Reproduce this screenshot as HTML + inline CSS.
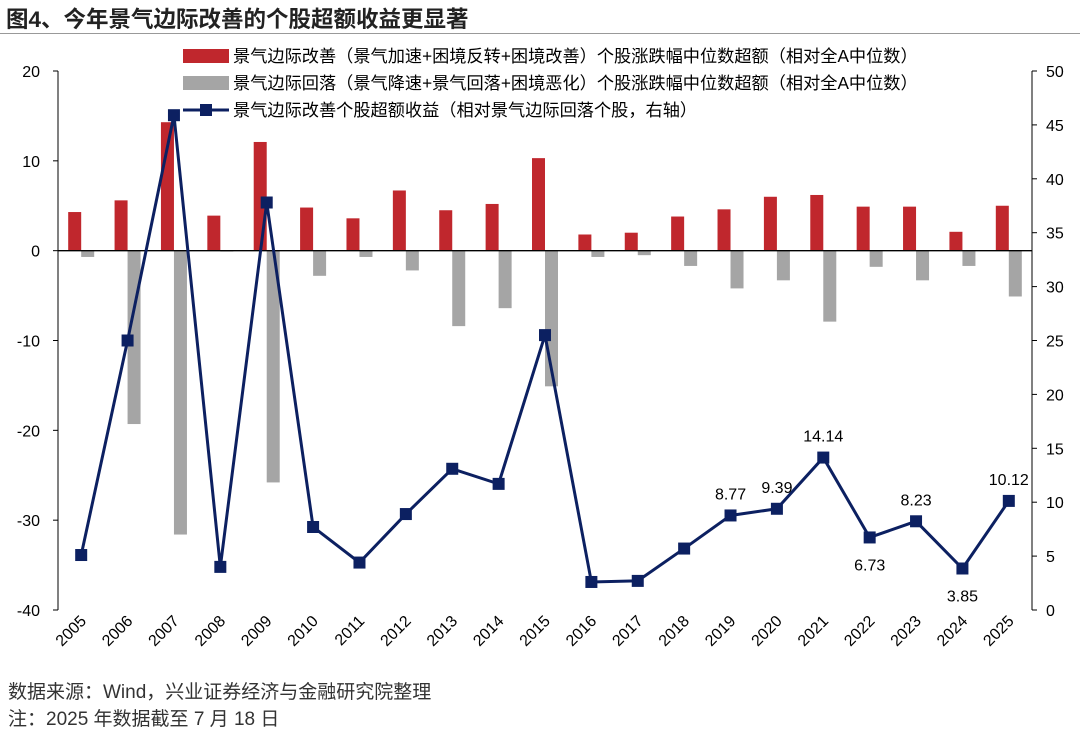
<!DOCTYPE html>
<html><head><meta charset="utf-8"><style>
body{margin:0;background:#fff;font-family:"Liberation Sans","Noto Sans CJK SC",sans-serif;}
#wrap{position:relative;width:1080px;height:729px;overflow:hidden;}
.t{position:absolute;white-space:nowrap;}
</style></head><body>
<div id="wrap">
<div class="t" style="left:6px;top:2px;font-size:22.5px;font-weight:bold;color:#222;">图4、今年景气边际改善的个股超额收益更显著</div>
<div style="position:absolute;left:0;top:33px;width:1080px;height:1px;background:#999;"></div>
<svg id="chart" width="1080" height="729" style="position:absolute;left:0;top:0"></svg>
<div class="t" style="left:8px;top:677px;font-size:19px;color:#333;">数据来源：Wind，兴业证券经济与金融研究院整理</div>
<div class="t" style="left:8px;top:704px;font-size:19px;color:#333;">注：2025 年数据截至 7 月 18 日</div>
</div>
<script>
const years=["2005","2006","2007","2008","2009","2010","2011","2012","2013","2014","2015","2016","2017","2018","2019","2020","2021","2022","2023","2024","2025"];
const improveBars=[4.3,5.6,14.3,3.9,12.1,4.8,3.6,6.7,4.5,5.2,10.3,1.8,2.0,3.8,4.6,6.0,6.2,4.9,4.9,2.1,5.0];
const declineBars=[-0.7,-19.3,-31.6,-0.1,-25.8,-2.8,-0.7,-2.2,-8.4,-6.4,-15.1,-0.7,-0.5,-1.7,-4.2,-3.3,-7.9,-1.8,-3.3,-1.7,-5.1];
const excessLine=[5.1,25.0,45.9,4.0,37.8,7.7,4.4,8.9,13.1,11.7,25.5,2.6,2.7,5.7,8.77,9.39,14.14,6.73,8.23,3.85,10.12];
const labelYears=["2019","2020","2021","2022","2023","2024","2025"];
const labelPos={"2019":"above","2020":"above","2021":"above","2022":"below","2023":"above","2024":"below","2025":"above"};
const leftTicks=[20,10,0,-10,-20,-30,-40];
const rightTicks=[50,45,40,35,30,25,20,15,10,5,0];
const legendLabels=["景气边际改善（景气加速+困境反转+困境改善）个股涨跌幅中位数超额（相对全A中位数）","景气边际回落（景气降速+景气回落+困境恶化）个股涨跌幅中位数超额（相对全A中位数）","景气边际改善个股超额收益（相对景气边际回落个股，右轴）"];

const svg=document.getElementById('chart');const NS='http://www.w3.org/2000/svg';
function el(tag,attrs,parent){const e=document.createElementNS(NS,tag);for(const k in attrs)e.setAttribute(k,attrs[k]);(parent||svg).appendChild(e);return e;}
const x0=58,x1=1032,yTop=71,yBot=610;
const step=(x1-x0)/years.length;
const xc=i=>x0+step*(i+0.5);
const yL=v=>yTop+(20-v)/60*(yBot-yTop);
const yR=v=>yBot-v/50*(yBot-yTop);
const RED="#C0272D",GRAY="#A5A5A5",NAVY="#0C2061";
let a=el('line',{x1:x0,y1:yTop,x2:x0,y2:yBot,stroke:'#000','stroke-width':1});

a=el('line',{x1:x1,y1:yTop,x2:x1,y2:yBot,stroke:'#000','stroke-width':1});

leftTicks.forEach(v=>{const t=el('text',{x:x0-18,y:yL(v)+6,'text-anchor':'end','font-size':16,fill:'#000'});t.textContent=v;

el('line',{x1:x0-5,y1:yL(v),x2:x0,y2:yL(v),stroke:'#000'});});
rightTicks.forEach(v=>{const t=el('text',{x:x1+14,y:yR(v)+6,'font-size':16,fill:'#000'});t.textContent=v;

el('line',{x1:x1,y1:yR(v),x2:x1+5,y2:yR(v),stroke:'#000'});});
const bw=13;
years.forEach((y,i)=>{
 let v=improveBars[i];let r=el('rect',{x:xc(i)-bw,y:Math.min(yL(v),yL(0)),width:bw,height:Math.abs(yL(v)-yL(0)),fill:RED});
 
 v=declineBars[i];r=el('rect',{x:xc(i),y:Math.min(yL(v),yL(0)),width:bw,height:Math.abs(yL(v)-yL(0)),fill:GRAY});
 
 const t=el('text',{transform:`translate(${xc(i)+6},${yBot+12}) rotate(-45)`,'text-anchor':'end','font-size':16,fill:'#000'});t.textContent=y;
 
});
a=el('line',{x1:x0,y1:yL(0),x2:x1,y2:yL(0),stroke:'#000','stroke-width':1.3});

const pts=excessLine.map((v,i)=>xc(i)+','+yR(v)).join(' ');
const pl=el('polyline',{points:pts,fill:'none',stroke:NAVY,'stroke-width':3});

excessLine.forEach((v,i)=>{const m=el('rect',{x:xc(i)-6,y:yR(v)-6,width:12,height:12,fill:NAVY});
 });
labelYears.forEach(y=>{const i=years.indexOf(y);const v=excessLine[i];
 const yy=labelPos[y]==='above'?yR(v)-16:yR(v)+33;
 const t=el('text',{x:xc(i),y:yy,'text-anchor':'middle','font-size':16,fill:'#000'});t.textContent=v.toFixed(2);
 });
const ly=[56,83,110];
legendLabels.forEach((s,k)=>{
 if(k<2){const r=el('rect',{x:183,y:ly[k]-7,width:46,height:14,fill:k?GRAY:RED});}
 else{el('line',{x1:183,y1:ly[k],x2:229,y2:ly[k],stroke:NAVY,'stroke-width':3});el('rect',{x:200,y:ly[k]-6,width:12,height:12,fill:NAVY});}
 const t=el('text',{x:233,y:ly[k]+6,'font-size':17.2,fill:'#000'});t.textContent=s;
 
});
</script>
</body></html>
